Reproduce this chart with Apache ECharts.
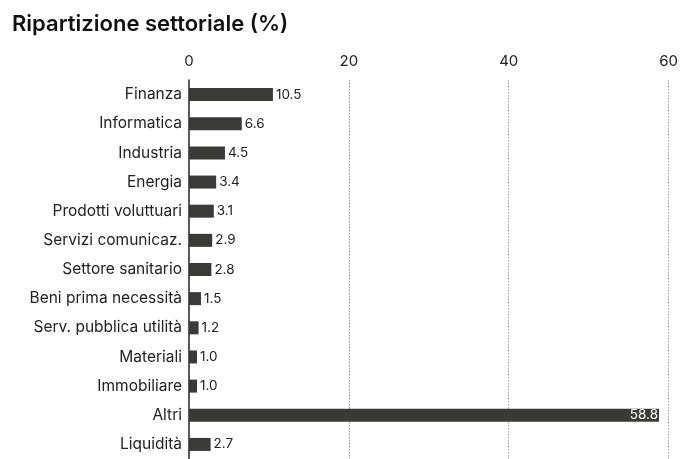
<!DOCTYPE html>
<html><head><meta charset="utf-8">
<script src="https://cdn.jsdelivr.net/npm/echarts@6/dist/echarts.min.js"></script>
<style>html,body{margin:0;padding:0;background:#fff}#c{width:681px;height:459px}</style>
</head><body><div id="c"></div>
<script>
const categories = ["Finanza","Informatica","Industria","Energia","Prodotti voluttuari","Servizi comunicaz.","Settore sanitario","Beni prima necessità","Serv. pubblica utilità","Materiali","Immobiliare","Altri","Liquidità"];
const values = [10.5,6.6,4.5,3.4,3.1,2.9,2.8,1.5,1.2,1.0,1.0,58.8,2.7];
const xTicks = [0,20,40,60];

const chart = echarts.init(document.getElementById('c'));
chart.setOption({
  animation:false,
  textStyle:{fontFamily:'Inter'},
  title:{text:'Ripartizione settoriale (%)',left:7,top:8,textStyle:{fontFamily:'Inter',fontSize:22,fontWeight:600,color:'#111'}},
  grid:{left:189,right:12,top:80,height:383,containLabel:false},
  xAxis:{type:'value',position:'top',min:0,max:60,interval:20,
    axisLine:{show:false},axisTick:{show:false},
    axisLabel:{fontFamily:'Inter',fontSize:15,color:'#222',margin:11,
      formatter:v=>xTicks.includes(v)?String(v):''},
    splitLine:{show:true,lineStyle:{color:'#999',type:[1.5,1.5],width:1},
      showMinLine:false}},
  yAxis:{type:'category',inverse:true,data:categories,
    axisLine:{show:true,lineStyle:{color:'#222',width:1.5}},
    axisTick:{show:false},
    axisLabel:{fontFamily:'Inter',fontSize:15.5,color:'#222',margin:7}},
  series:[{type:'bar',barWidth:13,
    data:values.map((v,i)=>({value:v,label:v>50?{position:'insideRight',color:'#fff',offset:[2,0]}:{}})),
    itemStyle:{color:'#3a3a38'},
    label:{show:true,position:'right',distance:3,fontFamily:'Inter',fontSize:13.5,color:'#222',
      formatter:p=>p.value.toFixed(1)}}]
});
</script></body></html>
